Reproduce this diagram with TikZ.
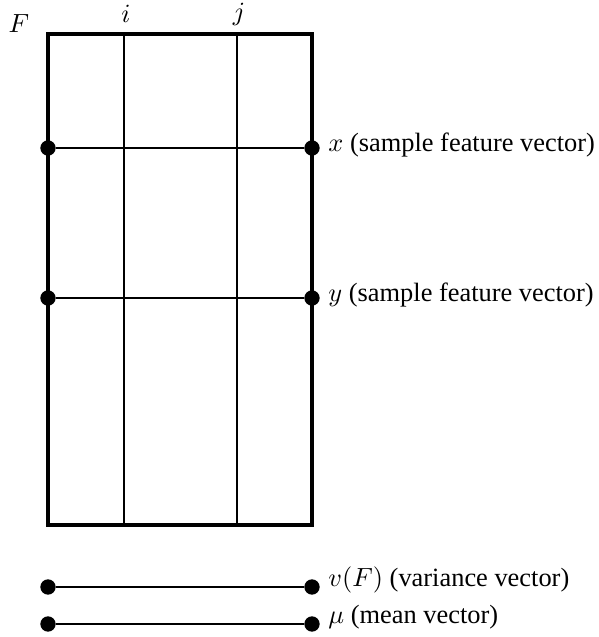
\documentclass[tikz,border=0pt]{standalone}
\usepackage{fontspec}
\setmainfont{Liberation Serif}
\begin{document}
\begin{tikzpicture}[x=0.4167pt,y=-0.4167pt,
  frame/.style={line width=1.3pt},
  grid/.style={line width=0.8pt},
  dot/.style={circle,fill=black,inner sep=0pt,minimum size=6.4pt},
  lbl/.style={anchor=west,inner sep=0pt,font=\fontsize{11}{13}\selectfont,yshift=1pt},
  top/.style={inner sep=0pt,font=\fontsize{11}{13}\selectfont}]
\useasboundingbox (0,0) rectangle (598,637);
% frame corners
\coordinate (tl) at (48,34);
\coordinate (br) at (312,525);
\coordinate (ti) at (124,34);
\coordinate (bi) at (124,525);
\coordinate (tj) at (237,34);
\coordinate (bj) at (237,525);
\draw[grid] (ti) -- (bi);
\draw[grid] (tj) -- (bj);
% dots
\node[dot] (xl) at (48,148) {};
\node[dot] (xr) at (312,148) {};
\node[dot] (yl) at (48,298) {};
\node[dot] (yr) at (312,298) {};
\node[dot] (vl) at (48,587) {};
\node[dot] (vr) at (312,587) {};
\node[dot] (ml) at (48,624) {};
\node[dot] (mr) at (312,624) {};
\draw[grid] (xl) -- (xr);
\draw[grid] (yl) -- (yr);
\draw[grid] (vl) -- (vr);
\draw[grid] (ml) -- (mr);
\draw[frame] (tl) rectangle (br);
% labels
\node[top] (F) at (19,24) {$F$};
\node[top] (i) at (126,14) {$i$};
\node[top] (j) at (239,14) {$j$};
\node[lbl] (xt) at (328,147) {$x$ (sample feature vector)};
\node[lbl] (yt) at (328,297) {$y$ (sample feature vector)};
\node[lbl] (vt) at (328,582) {$v(F)$ (variance vector)};
\node[lbl] (mt) at (328,620) {$\mu$ (mean vector)};
\end{tikzpicture}
\end{document}
